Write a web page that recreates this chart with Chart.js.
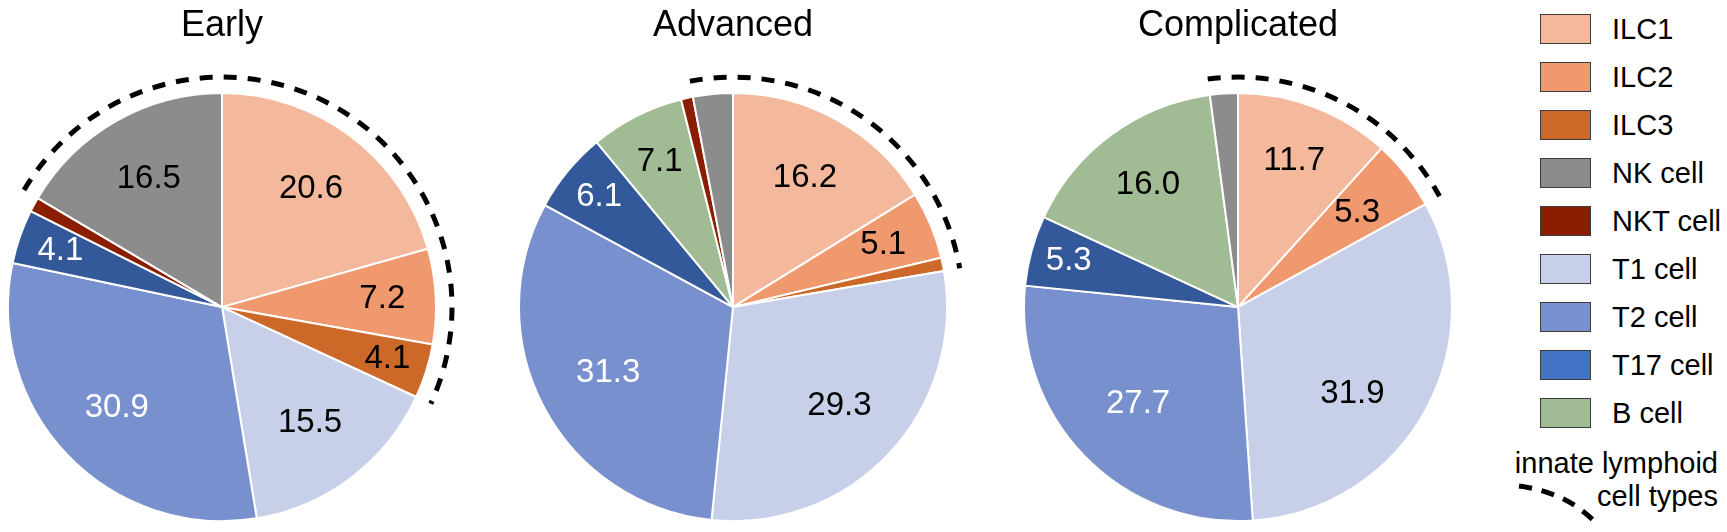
<!DOCTYPE html>
<html>
<head>
<meta charset="utf-8">
<title>Lymphocyte composition by stage</title>
<script src="https://cdn.jsdelivr.net/npm/chart.js@4.4.1/dist/chart.umd.min.js"></script>
<style>
  body {
    margin: 0;
    width: 1727px;
    height: 532px;
    overflow: hidden;
    background: #fff;
    position: relative;
    font-family: "Liberation Sans", Arial, sans-serif;
  }
  .pie { position: absolute; top: 0; width: 480px; height: 532px; }
  .legend-row { position: absolute; left: 1540px; height: 30px; }
  .legend-box {
    position: absolute; left: 0; top: 0;
    width: 49px; height: 28px;
    border: 1.5px solid #3c3c3c;
  }
  .legend-text {
    position: absolute; left: 72px; top: 15px;
    transform: translateY(-50%);
    font-size: 29px; line-height: 1; white-space: nowrap; color: #000;
  }
  .innate-text {
    position: absolute; right: 9px; font-size: 29px; line-height: 1;
    text-align: right; white-space: nowrap; color: #000;
  }
</style>
</head>
<body>
<div class="pie" style="left:-18px"><canvas id="earlyChart" width="480" height="532"></canvas></div>
<div class="pie" style="left:493px"><canvas id="advancedChart" width="480" height="532"></canvas></div>
<div class="pie" style="left:998px"><canvas id="complicatedChart" width="480" height="532"></canvas></div>
<div id="legend"></div>
<svg width="1727" height="532" style="position:absolute;left:0;top:0;pointer-events:none">
  <path d="M1519,486 Q1565,492 1594,521" fill="none" stroke="#000" stroke-width="5" stroke-dasharray="13 10"></path>
</svg>

<script>
// Slices go clockwise from 12 o'clock in this order
const cellTypes = ["ILC1", "ILC2", "ILC3", "T1 cell", "T2 cell", "T17 cell", "B cell", "NKT cell", "NK cell"];
const stages = ["Early", "Advanced", "Complicated"];

// Percentages per stage
const earlyValues = [20.6, 7.2, 4.1, 15.5, 30.9, 4.1, 0, 1.1, 16.5];
const advancedValues = [16.2, 5.1, 1.0, 29.3, 31.3, 6.1, 7.1, 0.9, 3.0];
const complicatedValues = [11.7, 5.3, 0, 31.9, 27.7, 5.3, 16.0, 0, 2.1];

const legendOrder = ["ILC1", "ILC2", "ILC3", "NK cell", "NKT cell", "T1 cell", "T2 cell", "T17 cell", "B cell"];
const innateTypes = ["ILC1", "ILC2", "ILC3", "NK cell"];
const innateCaption = ["innate lymphoid", "cell types"];

// Colours
const sliceColors = ["#F4B89C", "#F0996F", "#CC6929", "#C8CFE8", "#7990CE", "#34599B", "#A1BB95", "#8B1E00", "#8C8C8C"];
const swatchColors = { "T17 cell": "#4472C4" };
const whiteLabels = ["T2 cell", "T17 cell"];

// Label distance from centre, as a fraction of the radius (like Excel's best fit)
const earlyLabelPos = [0.69, 0.75, 0.81, 0.68, 0.68, 0.80, 0, 0, 0.69];
const advancedLabelPos = [0.69, 0.76, 0, 0.68, 0.66, 0.81, 0.76, 0, 0];
const complicatedLabelPos = [0.73, 0.71, 0, 0.67, 0.65, 0.82, 0.71, 0, 0];
// Extra clockwise turn of a label off the slice middle, degrees
const noTurn = [0, 0, 0, 0, 0, 0, 0, 0, 0];
const complicatedLabelTurn = [0, 0, 0, 8.4, 0, 0, 0, 0, 0];

const FONT = "Liberation Sans, Arial, sans-serif";
Chart.defaults.font.family = FONT;
Chart.defaults.color = "#000";

function makeLabelPlugin(positions, turns) {
  return {
    id: "sliceLabels",
    afterDatasetsDraw(chart) {
      const ctx = chart.ctx;
      const values = chart.data.datasets[0].data;
      const meta = chart.getDatasetMeta(0);
      ctx.save();
      ctx.font = "33px " + FONT;
      ctx.textAlign = "center";
      ctx.textBaseline = "middle";
      meta.data.forEach((arc, i) => {
        if (values[i] < 4) return; // tiny slices are left unlabeled
        const p = arc.getProps(["x", "y", "startAngle", "endAngle", "outerRadius"], true);
        const mid = (p.startAngle + p.endAngle) / 2 + (turns[i] * Math.PI) / 180;
        const r = p.outerRadius * positions[i];
        ctx.fillStyle = whiteLabels.includes(cellTypes[i]) ? "#fff" : "#000";
        ctx.fillText(values[i].toFixed(1), p.x + Math.cos(mid) * r, p.y + Math.sin(mid) * r);
      });
      ctx.restore();
    },
  };
}

// Dashed arc around the innate lymphoid slices (NK cell, then ILC1-3 across 12 o'clock)
const innateArc = {
  id: "innateArc",
  afterDraw(chart) {
    const meta = chart.getDatasetMeta(0);
    const first = meta.data[cellTypes.indexOf("NK cell")];
    const last = meta.data[cellTypes.indexOf("ILC3")];
    const p = first.getProps(["x", "y", "startAngle", "outerRadius"], true);
    const endAngle = last.getProps(["endAngle"], true).endAngle;
    const ctx = chart.ctx;
    ctx.save();
    ctx.strokeStyle = "#000";
    ctx.lineWidth = 5;
    ctx.setLineDash([13, 11]);
    ctx.beginPath();
    ctx.arc(p.x, p.y, p.outerRadius + 16, p.startAngle - 2 * Math.PI, endAngle);
    ctx.stroke();
    ctx.restore();
  },
};

function drawPie(canvasId, stage, values, labelPos, labelTurn) {
  const ctx = document.getElementById(canvasId).getContext("2d");
  new Chart(ctx, {
    type: "pie",
    data: {
      labels: cellTypes,
      datasets: [
        {
          data: values,
          backgroundColor: sliceColors,
          borderColor: "#fff",
          borderWidth: 2,
        },
      ],
    },
    options: {
      responsive: false,
      animation: false,
      radius: 214,
      plugins: {
        legend: { display: false },
        tooltip: { enabled: false },
        title: {
          display: true,
          text: stage,
          color: "#000",
          font: { size: 36, weight: "normal", family: FONT },
          padding: { top: 4, bottom: 35 },
        },
      },
    },
    plugins: [makeLabelPlugin(labelPos, labelTurn), innateArc],
  });
}

drawPie("earlyChart", stages[0], earlyValues, earlyLabelPos, noTurn);
drawPie("advancedChart", stages[1], advancedValues, advancedLabelPos, noTurn);
drawPie("complicatedChart", stages[2], complicatedValues, complicatedLabelPos, complicatedLabelTurn);

// Legend
const legend = document.getElementById("legend");
legendOrder.forEach((type, i) => {
  const row = document.createElement("div");
  row.className = "legend-row";
  row.style.top = 14 + i * 48 + "px";
  const box = document.createElement("div");
  box.className = "legend-box";
  box.style.background = swatchColors[type] || sliceColors[cellTypes.indexOf(type)];
  const text = document.createElement("div");
  text.className = "legend-text";
  text.textContent = type;
  row.appendChild(box);
  row.appendChild(text);
  legend.appendChild(row);
});

innateCaption.forEach((line, i) => {
  const t = document.createElement("div");
  t.className = "innate-text";
  t.style.top = 449 + i * 33 + "px";
  t.textContent = line;
  legend.appendChild(t);
});
</script>
</body>
</html>
